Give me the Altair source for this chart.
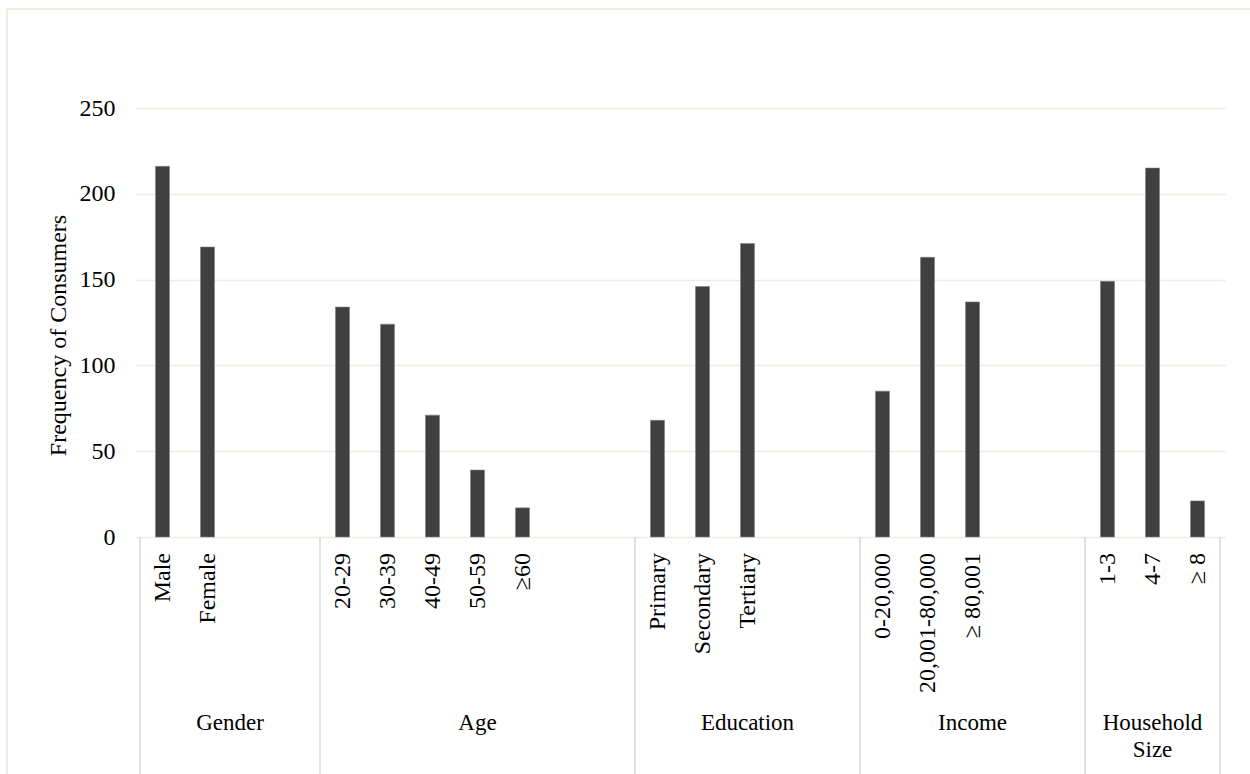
import altair as alt
import pandas as pd

# Survey profile: respondents per category, grouped by demographic variable
groups = ["Gender", "Age", "Education", "Income", "Household\nSize"]
categories = [
    ["Male", "Female"],
    ["20-29", "30-39", "40-49", "50-59", "≥60"],
    ["Primary", "Secondary", "Tertiary"],
    ["0-20,000", "20,001-80,000", "≥ 80,001"],
    ["1-3", "4-7", "≥ 8"],
]
frequencies = [
    [216, 169],
    [134, 124, 71, 39, 17],
    [68, 146, 171],
    [85, 163, 137],
    [149, 215, 21],
]
y_ticks = [0, 50, 100, 150, 200, 250]

# Layout: category cells reserved on the axis for each group (blank cells keep the spacing)
group_slots = [4, 7, 5, 5, 3]

FONT = "Times New Roman, Liberation Serif, serif"
W, H = 1090, 429
BAR = "#404040"
GRID = "#EEECE1"
AXIS = "#D9D9D9"

bar_rows, group_rows, edges = [], [], [0]
start = 0
for g, cats, vals, n in zip(groups, categories, frequencies, group_slots):
    for i, (c, v) in enumerate(zip(cats, vals)):
        bar_rows.append({"group": g, "category": c, "frequency": v, "slot": start + i + 0.5})
    group_rows.append({"group": g, "mid": start + n / 2})
    start += n
    edges.append(start)

bars_df = pd.DataFrame(bar_rows)
groups_df = pd.DataFrame(group_rows)
edges_df = pd.DataFrame({"edge": edges})

x_scale = alt.Scale(domain=[0, start], nice=False, zero=False)

bars = alt.Chart(bars_df).mark_bar(
    orient="vertical", size=14, color=BAR, stroke="#808080", strokeWidth=0.6
).encode(
    x=alt.X("slot:Q", scale=x_scale,
            axis=alt.Axis(labels=False, ticks=False, grid=False, title=None,
                          domainColor=AXIS, domainWidth=1.5)),
    y=alt.Y("frequency:Q",
            scale=alt.Scale(domain=[0, 250], nice=False),
            axis=alt.Axis(values=y_ticks, grid=True, gridColor=GRID, gridWidth=1.5,
                          domain=False, ticks=False, labelPadding=20,
                          labelFont=FONT, labelFontSize=24, labelColor="#000000",
                          title="Frequency of Consumers", titleFont=FONT,
                          titleFontSize=24, titleFontWeight="normal",
                          titleColor="#000000", titleX=-77, titleY=227,
                          titleBaseline="middle")),
)

cat_labels = alt.Chart(bars_df).mark_text(
    angle=270, align="right", baseline="middle",
    font=FONT, fontSize=24, color="#000000",
).encode(
    x=alt.X("slot:Q", scale=x_scale, axis=None),
    y=alt.value(H + 16),
    text="category:N",
)

dividers = alt.Chart(edges_df).mark_rule(color=AXIS, strokeWidth=1.5).encode(
    x=alt.X("edge:Q", scale=x_scale, axis=None),
    y=alt.value(H),
    y2=alt.value(H + 240),
)

group_labels = alt.Chart(groups_df).mark_text(
    align="center", baseline="top", lineBreak="\n", lineHeight=27,
    font=FONT, fontSize=23, color="#000000",
).encode(
    x=alt.X("mid:Q", scale=x_scale, axis=None),
    y=alt.value(H + 175),
    text="group:N",
)

# Chart frame (left and top edges)
frame_left = alt.Chart(bars_df).mark_rule(color=GRID, strokeWidth=2).encode(
    x=alt.value(-128), y=alt.value(-99), y2=alt.value(H + 260)
)
frame_top = alt.Chart(bars_df).mark_rule(color=GRID, strokeWidth=2).encode(
    x=alt.value(-128), x2=alt.value(W + 40), y=alt.value(-99)
)

chart = alt.layer(
    frame_left, frame_top, dividers, bars, cat_labels, group_labels
).properties(
    width=W, height=H,
    autosize=alt.AutoSizeParams(type="none"),
    padding={"left": 135, "top": 108, "right": 25, "bottom": 237},
    background="#FFFFFF",
).configure_view(stroke=None)

chart.save("out.html", embed_options={"renderer": "svg", "actions": False})
